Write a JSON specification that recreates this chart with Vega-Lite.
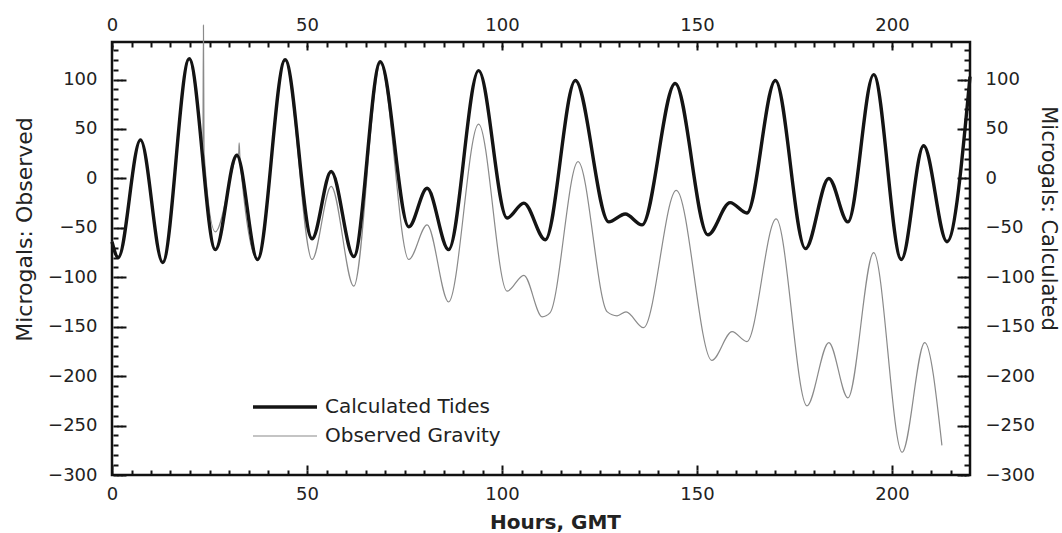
{
  "$schema": "https://vega.github.io/schema/vega-lite/v6.json",
  "width": 858,
  "height": 433,
  "autosize": "none",
  "padding": {"left": 112, "top": 42, "right": 92, "bottom": 58},
  "background": "white",
  "config": {
    "view": {"stroke": "#111", "strokeWidth": 2.5},
    "font": "DejaVu Sans",
    "axis": {
      "grid": false,
      "domain": false,
      "tickColor": "#111",
      "tickWidth": 2,
      "tickSize": 5,
      "labelFont": "DejaVu Sans",
      "labelFontSize": 18,
      "labelColor": "#222",
      "labelFlush": false,
      "labelOverlap": false,
      "titleFont": "DejaVu Sans",
      "titleColor": "#222",
      "titleFontWeight": "normal"
    },
    "legend": {"padding": 0}
  },
  "datasets": {
    "calc": [
      {"hour": 0, "ugal": -64, "series": "Calculated Tides"},
      {"hour": 1.6, "ugal": -80, "series": "Calculated Tides"},
      {"hour": 7.3, "ugal": 39, "series": "Calculated Tides"},
      {"hour": 13, "ugal": -85, "series": "Calculated Tides"},
      {"hour": 19.8, "ugal": 121, "series": "Calculated Tides"},
      {"hour": 26.5, "ugal": -72, "series": "Calculated Tides"},
      {"hour": 32, "ugal": 23.5, "series": "Calculated Tides"},
      {"hour": 37.3, "ugal": -82, "series": "Calculated Tides"},
      {"hour": 44.4, "ugal": 120, "series": "Calculated Tides"},
      {"hour": 51.3, "ugal": -61, "series": "Calculated Tides"},
      {"hour": 56.2, "ugal": 7, "series": "Calculated Tides"},
      {"hour": 62, "ugal": -79, "series": "Calculated Tides"},
      {"hour": 68.8, "ugal": 118, "series": "Calculated Tides"},
      {"hour": 76.1, "ugal": -49, "series": "Calculated Tides"},
      {"hour": 80.8, "ugal": -10, "series": "Calculated Tides"},
      {"hour": 86.3, "ugal": -72, "series": "Calculated Tides"},
      {"hour": 94, "ugal": 109, "series": "Calculated Tides"},
      {"hour": 101.3, "ugal": -40, "series": "Calculated Tides"},
      {"hour": 105.6, "ugal": -25, "series": "Calculated Tides"},
      {"hour": 111.1, "ugal": -62, "series": "Calculated Tides"},
      {"hour": 118.8, "ugal": 99, "series": "Calculated Tides"},
      {"hour": 127.4, "ugal": -44, "series": "Calculated Tides"},
      {"hour": 131.6, "ugal": -36, "series": "Calculated Tides"},
      {"hour": 135.9, "ugal": -47, "series": "Calculated Tides"},
      {"hour": 144.4, "ugal": 96, "series": "Calculated Tides"},
      {"hour": 152.8, "ugal": -57, "series": "Calculated Tides"},
      {"hour": 158.5, "ugal": -24.5, "series": "Calculated Tides"},
      {"hour": 162.8, "ugal": -35, "series": "Calculated Tides"},
      {"hour": 170.1, "ugal": 99, "series": "Calculated Tides"},
      {"hour": 177.8, "ugal": -71, "series": "Calculated Tides"},
      {"hour": 183.8, "ugal": 0, "series": "Calculated Tides"},
      {"hour": 188.7, "ugal": -44, "series": "Calculated Tides"},
      {"hour": 195.3, "ugal": 105, "series": "Calculated Tides"},
      {"hour": 202.4, "ugal": -82, "series": "Calculated Tides"},
      {"hour": 208.1, "ugal": 33, "series": "Calculated Tides"},
      {"hour": 214.1, "ugal": -64, "series": "Calculated Tides"},
      {"hour": 220, "ugal": 103, "series": "Calculated Tides"}
    ],
    "obs": [
      {"hour": 0, "ugal": -64, "series": "Observed Gravity"},
      {"hour": 1.6, "ugal": -80, "series": "Observed Gravity"},
      {"hour": 7.3, "ugal": 39, "series": "Observed Gravity"},
      {"hour": 13, "ugal": -85, "series": "Observed Gravity"},
      {"hour": 19.8, "ugal": 121, "series": "Observed Gravity"},
      {"hour": 21.8, "ugal": 78, "series": "Observed Gravity"},
      {"hour": 23.3, "ugal": 30, "series": "Observed Gravity"},
      {"hour": 23.45, "ugal": 155, "series": "Observed Gravity"},
      {"hour": 23.6, "ugal": 26, "series": "Observed Gravity"},
      {"hour": 26.5, "ugal": -54, "series": "Observed Gravity"},
      {"hour": 32, "ugal": 23, "series": "Observed Gravity"},
      {"hour": 32.5, "ugal": 26, "series": "Observed Gravity"},
      {"hour": 32.6, "ugal": 36, "series": "Observed Gravity"},
      {"hour": 32.8, "ugal": 22, "series": "Observed Gravity"},
      {"hour": 37.3, "ugal": -82, "series": "Observed Gravity"},
      {"hour": 44.4, "ugal": 120, "series": "Observed Gravity"},
      {"hour": 51.3, "ugal": -82, "series": "Observed Gravity"},
      {"hour": 56.2, "ugal": -8, "series": "Observed Gravity"},
      {"hour": 62, "ugal": -109, "series": "Observed Gravity"},
      {"hour": 68.8, "ugal": 116, "series": "Observed Gravity"},
      {"hour": 76.1, "ugal": -82, "series": "Observed Gravity"},
      {"hour": 80.8, "ugal": -47, "series": "Observed Gravity"},
      {"hour": 86.3, "ugal": -125, "series": "Observed Gravity"},
      {"hour": 94, "ugal": 55, "series": "Observed Gravity"},
      {"hour": 101.3, "ugal": -114, "series": "Observed Gravity"},
      {"hour": 105.6, "ugal": -98, "series": "Observed Gravity"},
      {"hour": 110.3, "ugal": -140, "series": "Observed Gravity"},
      {"hour": 112.3, "ugal": -136, "series": "Observed Gravity"},
      {"hour": 119.5, "ugal": 17, "series": "Observed Gravity"},
      {"hour": 127, "ugal": -135, "series": "Observed Gravity"},
      {"hour": 129.5, "ugal": -139, "series": "Observed Gravity"},
      {"hour": 131.8, "ugal": -135, "series": "Observed Gravity"},
      {"hour": 136.3, "ugal": -151, "series": "Observed Gravity"},
      {"hour": 144.7, "ugal": -12, "series": "Observed Gravity"},
      {"hour": 153.8, "ugal": -184, "series": "Observed Gravity"},
      {"hour": 159, "ugal": -155, "series": "Observed Gravity"},
      {"hour": 162.8, "ugal": -165, "series": "Observed Gravity"},
      {"hour": 170.3, "ugal": -41, "series": "Observed Gravity"},
      {"hour": 178.2, "ugal": -230, "series": "Observed Gravity"},
      {"hour": 183.8, "ugal": -166, "series": "Observed Gravity"},
      {"hour": 188.7, "ugal": -222, "series": "Observed Gravity"},
      {"hour": 195.3, "ugal": -75, "series": "Observed Gravity"},
      {"hour": 202.6, "ugal": -277, "series": "Observed Gravity"},
      {"hour": 208.4, "ugal": -166, "series": "Observed Gravity"},
      {"hour": 212.8, "ugal": -270, "series": "Observed Gravity"}
    ]
  },
  "layer": [
    {
      "data": {"name": "obs"},
      "mark": {"type": "line", "interpolate": "monotone"},
      "encoding": {
        "x": {
          "field": "hour", "type": "quantitative",
          "scale": {"domain": [0, 220], "nice": false, "zero": false},
          "axis": {
            "orient": "bottom",
            "values": [0, 50, 100, 150, 200],
            "offset": -10,
            "tickSize": 5,
            "labelPadding": 15,
            "title": "Hours, GMT",
            "titleFontSize": 20,
            "titleFontWeight": "bold",
            "titleX": 443,
            "titleY": 47
          }
        },
        "y": {
          "field": "ugal", "type": "quantitative",
          "scale": {"domain": [-300, 138], "nice": false, "zero": false},
          "axis": {
            "orient": "left",
            "values": [-300, -250, -200, -150, -100, -50, 0, 50, 100],
            "offset": -14,
            "tickSize": 5,
            "labelPadding": 24,
            "title": "Microgals: Observed",
            "titleFontSize": 22,
            "titleX": -90,
            "titleY": 187
          }
        },
        "color": {
          "field": "series", "type": "nominal",
          "scale": {"domain": ["Calculated Tides", "Observed Gravity"], "range": ["#141414", "#8a8a8a"]},
          "legend": {
            "orient": "none", "legendX": 163, "legendY": 355, "title": null,
            "symbolType": "M-4,0H4", "symbolSize": 256,
            "labelFontSize": 20, "labelFont": "DejaVu Sans", "labelColor": "#222",
            "labelOffset": 30, "labelLimit": 400, "rowPadding": 9
          }
        },
        "strokeWidth": {
          "field": "series", "type": "ordinal",
          "scale": {"domain": ["Calculated Tides", "Observed Gravity"], "range": [3.4, 1.2]},
          "legend": {
            "orient": "none", "legendX": 163, "legendY": 355, "title": null,
            "symbolType": "M-4,0H4", "symbolSize": 256,
            "labelFontSize": 20, "labelFont": "DejaVu Sans", "labelColor": "#222",
            "labelOffset": 30, "labelLimit": 400, "rowPadding": 9
          }
        }
      }
    },
    {
      "data": {"name": "calc"},
      "mark": {"type": "line", "interpolate": "monotone"},
      "encoding": {
        "x": {
          "field": "hour", "type": "quantitative",
          "axis": {
            "orient": "top",
            "values": [0, 50, 100, 150, 200],
            "offset": -8,
            "tickSize": 5,
            "labelPadding": 11,
            "title": null
          }
        },
        "y": {
          "field": "ugal", "type": "quantitative",
          "axis": {
            "orient": "right",
            "values": [-300, -250, -200, -150, -100, -50, 0, 50, 100],
            "offset": -13,
            "tickSize": 5,
            "labelPadding": 23,
            "title": "Microgals: Calculated",
            "titleFontSize": 21,
            "titleX": 80,
            "titleY": 176
          }
        },
        "color": {"field": "series", "type": "nominal"},
        "strokeWidth": {"field": "series", "type": "ordinal"}
      }
    },
    {
      "data": {"name": "calc"},
      "mark": {"type": "line", "opacity": 0},
      "encoding": {
        "x": {
          "field": "hour", "type": "quantitative",
          "axis": {
            "orient": "bottom",
            "values": [0,5,10,15,20,25,30,35,40,45,50,55,60,65,70,75,80,85,90,95,100,105,110,115,120,125,130,135,140,145,150,155,160,165,170,175,180,185,190,195,200,205,210,215],
            "offset": -5, "tickSize": 5, "labels": false, "title": null
          }
        },
        "y": {
          "field": "ugal", "type": "quantitative",
          "axis": {
            "orient": "left",
            "values": [-300,-290,-280,-270,-260,-250,-240,-230,-220,-210,-200,-190,-180,-170,-160,-150,-140,-130,-120,-110,-100,-90,-80,-70,-60,-50,-40,-30,-20,-10,0,10,20,30,40,50,60,70,80,90,100,110,120,130],
            "offset": -6, "tickSize": 5, "labels": false, "title": null
          }
        }
      }
    },
    {
      "data": {"name": "calc"},
      "mark": {"type": "line", "opacity": 0},
      "encoding": {
        "x": {
          "field": "hour", "type": "quantitative",
          "axis": {
            "orient": "top",
            "values": [0,5,10,15,20,25,30,35,40,45,50,55,60,65,70,75,80,85,90,95,100,105,110,115,120,125,130,135,140,145,150,155,160,165,170,175,180,185,190,195,200,205,210,215],
            "offset": -5, "tickSize": 5, "labels": false, "title": null
          }
        },
        "y": {
          "field": "ugal", "type": "quantitative",
          "axis": {
            "orient": "right",
            "values": [-300,-290,-280,-270,-260,-250,-240,-230,-220,-210,-200,-190,-180,-170,-160,-150,-140,-130,-120,-110,-100,-90,-80,-70,-60,-50,-40,-30,-20,-10,0,10,20,30,40,50,60,70,80,90,100,110,120,130],
            "offset": -6, "tickSize": 5, "labels": false, "title": null
          }
        }
      }
    },
    {
      "data": {"name": "calc"},
      "mark": {"type": "line", "opacity": 0},
      "encoding": {
        "x": {"field": "hour", "type": "quantitative", "axis": null},
        "y": {
          "field": "ugal", "type": "quantitative",
          "axis": {
            "orient": "left",
            "values": [-300, -250, -200, -150, -100, -50, 0, 50, 100],
            "offset": -10, "tickSize": 5, "labels": false, "title": null
          }
        }
      }
    },
    {
      "data": {"name": "calc"},
      "mark": {"type": "line", "opacity": 0},
      "encoding": {
        "x": {"field": "hour", "type": "quantitative", "axis": null},
        "y": {
          "field": "ugal", "type": "quantitative",
          "axis": {
            "orient": "right",
            "values": [-300, -250, -200, -150, -100, -50, 0, 50, 100],
            "offset": -9, "tickSize": 5, "labels": false, "title": null
          }
        }
      }
    }
  ],
  "resolve": {"axis": {"x": "independent", "y": "independent"}}
}
